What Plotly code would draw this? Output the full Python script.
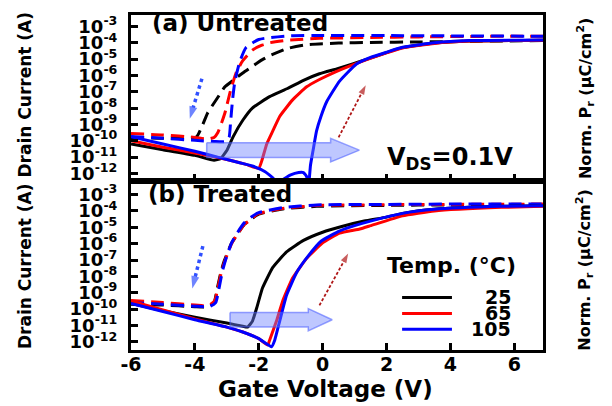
import plotly.graph_objects as go

# ---------------- data: gate voltage (V) and drain current (A) ----------------
# (a) Untreated — forward (solid) and reverse (dashed) sweeps
a_fwd25_v = [-6, -5, -4, -3.4, -3.2, -3.0, -2.8, -2.5, -2.2, -1.66, -1.1, -0.6, -0.1, 0.44, 0.94, 1.4, 2.0, 2.5, 3.5, 4.6, 6.9]
a_fwd25_i = [6.31e-11, 2.82e-11, 1.26e-11, 6.31e-12, 7.94e-12, 2.51e-11, 1.78e-10, 1.78e-9, 1e-8, 5.01e-8, 1.58e-7,
             5.01e-7, 1.26e-6, 2.51e-6, 5.01e-6, 1e-5, 2.51e-5, 5.01e-5, 9.55e-5, 1.26e-4, 1.41e-4]
a_fwd65_v = [-6, -5, -4, -3.0, -2.4, -2.0, -1.9, -1.75, -1.56, -1.34, -0.94, -0.5, -0.1, 0.44, 0.94, 1.4, 2.0, 2.5, 3.5, 4.6, 6.9]
a_fwd65_i = [1e-10, 3.98e-11, 1.78e-11, 7.08e-12, 3.55e-12, 2.0e-12, 6.31e-12, 6.31e-11, 3.98e-10, 3.16e-9, 3.16e-8,
             2.0e-7, 5.62e-7, 1.78e-6, 4.47e-6, 9.55e-6, 2.40e-5, 4.79e-5, 9.12e-5, 1.26e-4, 1.41e-4]
a_fwd105_v = [-6, -5, -4, -3.2, -2.6, -2.2, -1.8, -1.55, -1.4, -1.25, -1.0, -0.75, -0.6, -0.5, -0.45, -0.38, -0.3, -0.19,
              -0.05, 0.13, 0.53, 1.06, 1.5, 2.0, 2.5, 3.5, 4.6, 6.9]
a_fwd105_i = [1.78e-10, 6.31e-11, 2.24e-11, 8.91e-12, 4.47e-12, 2.82e-12, 1.26e-12, 5.01e-13, 1e-13, 3.98e-13, 7.94e-13,
              1.12e-12, 1.12e-12, 6.31e-13, 1e-13, 3.16e-12, 2.51e-11, 3.98e-10, 3.16e-9, 2.51e-8, 4.47e-7, 5.01e-6,
              1.26e-5, 2.63e-5, 5.25e-5, 1e-4, 1.35e-4, 1.48e-4]
a_rev25_v = [-6, -5, -4.2, -3.94, -3.75, -3.6, -3.3, -3.06, -2.8, -2.5, -2.2, -1.9, -1.66, -1.1, -0.5, 0.5, 1.5, 3.0, 5.0, 6.9]
a_rev25_i = [1.58e-10, 1.41e-10, 1.41e-10, 1.78e-10, 1e-9, 5.01e-9, 3.98e-8, 2.0e-7, 5.01e-7, 1.41e-6, 3.55e-6, 8.91e-6,
             1.58e-5, 4.47e-5, 7.59e-5, 9.55e-5, 1.05e-4, 1.12e-4, 1.26e-4, 1.35e-4]
a_rev65_v = [-6, -5, -4, -3.6, -3.4, -3.28, -3.06, -2.88, -2.7, -2.5, -2.2, -1.9, -1.66, -1.1, -0.1, 1.5, 3.0, 5.0, 6.9]
a_rev65_i = [2.75e-10, 2.24e-10, 1.58e-10, 1.26e-10, 1.58e-10, 3.16e-10, 5.01e-9, 1.26e-7, 1.58e-6, 7.94e-6, 3.55e-5,
             7.08e-5, 1e-4, 1.41e-4, 1.86e-4, 2.09e-4, 2.29e-4, 2.45e-4, 2.51e-4]
a_rev105_v = [-6, -5, -4, -3.4, -3.05, -2.93, -2.88, -2.82, -2.75, -2.6, -2.4, -2.0, -1.1, 0.0, 2.0, 4.0, 6.9]
a_rev105_i = [1.78e-10, 1.41e-10, 1.05e-10, 8.91e-11, 8.91e-11, 1.58e-10, 1.58e-9, 3.16e-8, 3.98e-7, 6.31e-6, 5.01e-5,
              1.58e-4, 2.63e-4, 2.82e-4, 2.75e-4, 2.63e-4, 2.51e-4]

# (b) Treated
b_fwd25_v = [-6, -5, -4, -3, -2.5, -2.35, -2.2, -2.06, -1.88, -1.56, -1.13, -0.6, 0.0, 0.6, 1.3, 2.0, 2.5, 3.5, 5.6, 6.9]
b_fwd25_i = [2.24e-10, 7.94e-11, 3.16e-11, 1.41e-11, 8.91e-12, 7.94e-12, 1.78e-11, 1.26e-10, 2.0e-9, 3.55e-8, 3.16e-7,
             1.58e-6, 5.01e-6, 1.12e-5, 2.40e-5, 4.17e-5, 7.08e-5, 1.26e-4, 1.91e-4, 2.09e-4]
b_fwd65_v = [-6, -5, -4, -3, -2.5, -2, -1.72, -1.66, -1.44, -1.25, -0.94, -0.5, 0.0, 0.53, 1.16, 1.5, 2.5, 3.5, 5.6, 6.9]
b_fwd65_i = [3.16e-10, 8.91e-11, 2.51e-11, 7.94e-12, 3.98e-12, 1.58e-12, 6.31e-13, 1.26e-12, 2.0e-11, 3.16e-10, 7.94e-9,
             1.26e-7, 1.12e-6, 4.47e-6, 7.94e-6, 1.26e-5, 5.01e-5, 1e-4, 1.66e-4, 1.91e-4]
b_fwd105_v = [-6, -5, -4, -3, -2.5, -2, -1.6, -1.5, -1.34, -1.13, -0.81, -0.45, -0.05, 0.5, 1.0, 1.5, 2.5, 3.5, 5.6, 6.9]
b_fwd105_i = [2.24e-10, 7.08e-11, 2.24e-11, 7.94e-12, 3.98e-12, 1.58e-12, 5.01e-13, 1.26e-12, 2.0e-11, 7.08e-10, 1.78e-8,
              1.78e-7, 1.41e-6, 5.62e-6, 1.26e-5, 2.40e-5, 7.08e-5, 1.26e-4, 1.91e-4, 2.09e-4]
b_rev25_v = [-6, -5, -4, -3.6, -3.4, -3.3, -3.18, -3.08, -2.86, -2.66, -2.44, -2.2, -2.0, -1.25, -0.19, 2.0, 4.0, 6.9]
b_rev25_i = [2.0e-10, 1.78e-10, 1.41e-10, 1.41e-10, 2.51e-10, 1.78e-9, 2.0e-8, 8.91e-8, 1e-6, 3.98e-6, 1.58e-5, 3.55e-5,
             6.31e-5, 1.32e-4, 1.91e-4, 2.19e-4, 2.34e-4, 2.51e-4]
b_rev65_v = [-6, -5, -4, -3.6, -3.38, -3.28, -3.16, -3.06, -2.85, -2.66, -2.44, -2.22, -2.06, -1.25, -0.19, 2.0, 4.0, 6.9]
b_rev65_i = [3.39e-10, 2.51e-10, 1.78e-10, 1.58e-10, 3.16e-10, 2.0e-9, 2.24e-8, 8.91e-8, 1e-6, 3.98e-6, 1.58e-5, 3.16e-5,
             6.31e-5, 1.41e-4, 2.14e-4, 2.40e-4, 2.51e-4, 2.63e-4]
b_rev105_v = [-6, -5, -4, -3.55, -3.35, -3.25, -3.14, -3.04, -2.85, -2.66, -2.44, -2.22, -2.0, -1.25, -0.19, 2.0, 4.0, 6.9]
b_rev105_i = [2.51e-10, 2.0e-10, 1.51e-10, 1.41e-10, 2.51e-10, 1.58e-9, 2.0e-8, 1e-7, 1.12e-6, 5.01e-6, 2.0e-5, 4.47e-5,
              7.94e-5, 1.58e-4, 2.34e-4, 2.51e-4, 2.63e-4, 2.69e-4]

temps = ["25", "65", "105"]
x_tickvals = [-6, -4, -2, 0, 2, 4, 6]
x_ticktext = ["-6", "-4", "-2", "0", "2", "4", "6"]
y_tickvals = [1e-3, 1e-4, 1e-5, 1e-6, 1e-7, 1e-8, 1e-9, 1e-10, 1e-11, 1e-12]
y_ticktext = ["10<sup>-3</sup>", "10<sup>-4</sup>", "10<sup>-5</sup>", "10<sup>-6</sup>", "10<sup>-7</sup>",
              "10<sup>-8</sup>", "10<sup>-9</sup>", "10<sup>-10</sup>", "10<sup>-11</sup>", "10<sup>-12</sup>"]

# ---------------- figure ----------------
FONT = "DejaVu Sans"
colors = {"25": "#000000", "65": "#ff0000", "105": "#0000ff"}
DASH = "13px,7px"

fig = go.Figure()

panels = [
    ("x", "y", {"25": (a_fwd25_v, a_fwd25_i, a_rev25_v, a_rev25_i),
                "65": (a_fwd65_v, a_fwd65_i, a_rev65_v, a_rev65_i),
                "105": (a_fwd105_v, a_fwd105_i, a_rev105_v, a_rev105_i)}),
    ("x2", "y2", {"25": (b_fwd25_v, b_fwd25_i, b_rev25_v, b_rev25_i),
                  "65": (b_fwd65_v, b_fwd65_i, b_rev65_v, b_rev65_i),
                  "105": (b_fwd105_v, b_fwd105_i, b_rev105_v, b_rev105_i)}),
]

for xa, ya, series in panels:
    for t in temps:
        fv, fi, rv, ri = series[t]
        fig.add_trace(go.Scatter(x=rv, y=ri, xaxis=xa, yaxis=ya, mode="lines", showlegend=False,
                                 line=dict(color=colors[t], width=3, dash=DASH, shape="spline", smoothing=0.5),
                                 name=t + " °C (reverse)"))
    for t in temps:
        fv, fi, rv, ri = series[t]
        fig.add_trace(go.Scatter(x=fv, y=fi, xaxis=xa, yaxis=ya, mode="lines", showlegend=False,
                                 line=dict(color=colors[t], width=3, shape="spline", smoothing=0.4),
                                 name=t + " °C"))

# ---------------- decorations (arrows) ----------------
def big_arrow(xa, ya, x0, xb, xt, c, hs, hh):
    px = [x0, xb, xb, xt, xb, xb, x0, x0]
    py = [c + hs, c + hs, c + hh, c, c - hh, c - hs, c - hs, c + hs]
    fig.add_trace(go.Scatter(x=px, y=[10 ** p for p in py], xaxis=xa, yaxis=ya, mode="lines",
                             fill="toself", fillcolor="rgba(110,130,255,0.45)",
                             line=dict(color="rgba(70,90,255,0.55)", width=1.5),
                             showlegend=False, hoverinfo="skip"))

def dotted_arrow(xa, ya, xs, ys, color, width, dash, size):
    fig.add_trace(go.Scatter(x=xs, y=ys, xaxis=xa, yaxis=ya, mode="lines+markers",
                             line=dict(color=color, width=width, dash=dash),
                             marker=dict(symbol=["circle", "arrow"], size=[0, size], color=color,
                                         angleref="previous", line=dict(width=0)),
                             showlegend=False, hoverinfo="skip"))

big_arrow("x", "y", -3.63, 0.25, 1.15, -10.58, 0.45, 0.72)
big_arrow("x2", "y2", -2.9, -0.45, 0.3, -10.65, 0.45, 0.68)
dotted_arrow("x", "y", [-3.78, -4.16], [6.3e-7, 2.2e-9], "#3050ff", 3.5, "dot", 13)
dotted_arrow("x2", "y2", [-3.75, -4.08], [7.1e-7, 1.8e-9], "#3050ff", 3.5, "dot", 13)
dotted_arrow("x", "y", [0.5, 1.35], [1.6e-10, 2.5e-7], "#b01818", 1.8, "3px,2px", 10)
dotted_arrow("x2", "y2", [-0.1, 0.8], [1.7e-10, 2.5e-7], "#b01818", 1.8, "3px,2px", 10)

# ---------------- axes ----------------
axis_common = dict(showline=True, linewidth=3, linecolor="black", mirror=True, ticks="inside",
                   ticklen=7, tickwidth=2.5, tickcolor="black", showgrid=False, zeroline=False)

# the page adds an 8 px body margin (top/left), so the figure is 8 px smaller and
# the left/top margins are reduced accordingly
fig.update_layout(
    width=604, height=398,
    margin=dict(l=123, r=69, t=4, b=56),
    paper_bgcolor="white", plot_bgcolor="white",
    font=dict(family=FONT, size=18, color="black", weight="bold"),
    showlegend=False,
    xaxis=dict(axis_common, range=[-6, 6.9], domain=[0, 1], anchor="y", tickvals=x_tickvals,
               showticklabels=False),
    yaxis=dict(axis_common, type="log", range=[-12.5, -2.3], domain=[0.503, 1], anchor="x",
               tickvals=y_tickvals, ticktext=y_ticktext, ticklabelstandoff=7,
               tickfont=dict(size=18)),
    xaxis2=dict(axis_common, range=[-6, 6.9], domain=[0, 1], anchor="y2", tickvals=x_tickvals,
                ticktext=x_ticktext, tickfont=dict(size=19), ticklabelstandoff=-5),
    yaxis2=dict(axis_common, type="log", range=[-12.5, -2.2], domain=[0, 0.503], anchor="x2",
                tickvals=y_tickvals, ticktext=y_ticktext, ticklabelstandoff=7,
                tickfont=dict(size=18)),
)

def ann(text, x, y, size, xanchor="center", yanchor="middle", angle=0):
    fig.add_annotation(text=text, x=x, y=y, xref="paper", yref="paper", showarrow=False,
                       xanchor=xanchor, yanchor=yanchor, textangle=angle,
                       font=dict(family=FONT, size=size, color="black", weight="bold"))

ann("Drain Current (A)", -0.257, 0.763, 17, angle=-90)
ann("Drain Current (A)", -0.257, 0.251, 17, angle=-90)
ann("Norm. P<sub>r</sub> (μC/cm<sup>2</sup>)", 1.102, 0.749, 16, angle=-90)
ann("Norm. P<sub>r</sub> (μC/cm<sup>2</sup>)", 1.102, 0.237, 16, angle=-90)
ann("Gate Voltage (V)", 0.473, -0.115, 23)
ann("(a) Untreated", 0.046, 0.976, 23, xanchor="left")
ann("(b) Treated", 0.036, 0.467, 23, xanchor="left")
ann("V<sub>DS</sub>=0.1V", 0.774, 0.571, 24)

# manual legend
ann("Temp. (°C)", 0.779, 0.251, 22)
leg_y = [0.157, 0.109, 0.062]
for t, yy in zip(temps, leg_y):
    fig.add_shape(type="line", xref="paper", yref="paper", x0=0.658, x1=0.779, y0=yy, y1=yy,
                  line=dict(color=colors[t], width=3))
    ann(t, 0.927, yy, 19, xanchor="right")

fig.write_html("out.html")
